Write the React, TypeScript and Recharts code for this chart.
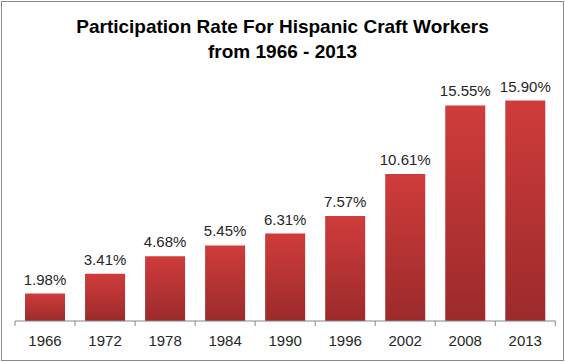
import React from "react";
import { BarChart, Bar, XAxis, YAxis, LabelList } from "recharts";

const years = ["1966", "1972", "1978", "1984", "1990", "1996", "2002", "2008", "2013"];
const rates = [1.98, 3.41, 4.68, 5.45, 6.31, 7.57, 10.61, 15.55, 15.9];
const titleLines = ["Participation Rate For Hispanic Craft Workers", "from 1966 - 2013"];

const data = years.map((y, i) => ({ year: y, rate: rates[i] }));

const FONT = "'Liberation Sans', Arial, sans-serif";

const Tick = (props: any) => {
  const { x, y, payload, index } = props;
  const half = payload.offset || 0;
  const last = index === years.length - 1;
  return (
    <g>
      <line x1={x - half} x2={x - half} y1={y - 8} y2={y - 3} stroke="#868686" strokeWidth={1} />
      {last && <line x1={x + half} x2={x + half} y1={y - 8} y2={y - 3} stroke="#868686" strokeWidth={1} />}
      <text x={x} y={y + 17} textAnchor="middle" fontFamily={FONT} fontSize={15} fill="#262626">
        {payload.value}
      </text>
    </g>
  );
};

export default function App() {
  return (
    <div style={{ position: "absolute", left: 0, top: 0, width: 565, height: 362, background: "#fff" }}>
      <div
        style={{
          position: "absolute",
          left: 1,
          top: 1,
          width: 561,
          height: 358,
          border: "1px solid #8a8a8a",
        }}
      />
      <div
        style={{
          position: "absolute",
          left: 0,
          top: 14,
          width: 565,
          textAlign: "center",
          fontFamily: FONT,
          fontWeight: "bold",
          fontSize: 19,
          lineHeight: "25px",
          color: "#000",
        }}
      >
        {titleLines.map((t) => (
          <div key={t}>{t}</div>
        ))}
      </div>
      <BarChart
        width={565}
        height={362}
        data={data}
        margin={{ top: 71.5, right: 9.7, bottom: 0, left: 15 }}
        barCategoryGap="16.7%"
        style={{ position: "absolute", left: 0, top: 0 }}
      >
        <defs>
          <linearGradient id="barGrad" x1="0" y1="0" x2="0" y2="1">
            <stop offset="0%" stopColor="#cf3c3b" />
            <stop offset="100%" stopColor="#9c2a2b" />
          </linearGradient>
        </defs>
        <YAxis hide domain={[0, 18]} type="number" />
        <XAxis
          dataKey="year"
          axisLine={{ stroke: "#868686" }}
          tickLine={false}
          tick={<Tick />}
          interval={0}
          height={41}
        />
        <Bar dataKey="rate" fill="url(#barGrad)" isAnimationActive={false}>
          <LabelList
            dataKey="rate"
            position="top"
            offset={9}
            formatter={(v: any) => Number(v).toFixed(2) + "%"}
            style={{ fontFamily: FONT, fontSize: 15, fill: "#262626" }}
          />
        </Bar>
      </BarChart>
    </div>
  );
}
